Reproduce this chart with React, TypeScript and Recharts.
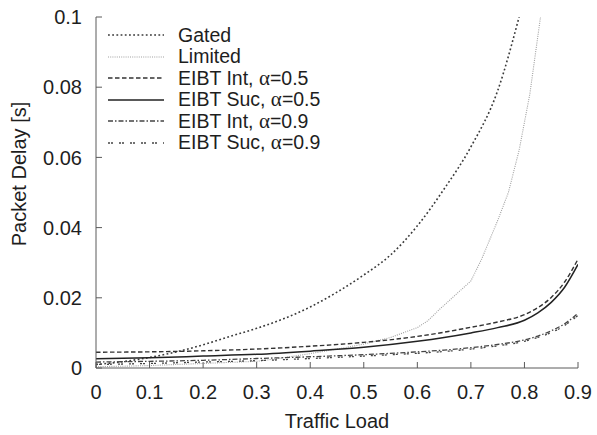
import React from 'react';
import { LineChart, Line, XAxis, YAxis, Legend } from 'recharts';

// Traffic load (x) and packet delay (y) values
const gatedX = [0, 0.05, 0.1, 0.15, 0.2, 0.25, 0.3, 0.35, 0.4, 0.45, 0.5, 0.55, 0.6, 0.65, 0.7, 0.75, 0.79, 0.81];
const gatedY = [0.001, 0.0018, 0.003, 0.0046, 0.0066, 0.009, 0.0113, 0.014, 0.0174, 0.0216, 0.0265, 0.0322, 0.0405, 0.051, 0.063, 0.079, 0.1, 0.112];

const limitedX = [0, 0.05, 0.1, 0.15, 0.2, 0.25, 0.3, 0.35, 0.4, 0.45, 0.5, 0.55, 0.6, 0.62, 0.64, 0.7, 0.72, 0.75, 0.77, 0.79, 0.8, 0.81, 0.82, 0.83, 0.84];
const limitedY = [0.0004, 0.0005, 0.0007, 0.001, 0.0013, 0.0016, 0.0019, 0.0029, 0.0041, 0.0054, 0.0068, 0.0087, 0.0115, 0.0135, 0.0165, 0.0248, 0.031, 0.042, 0.05, 0.062, 0.07, 0.078, 0.089, 0.1, 0.115];

const eibtX = [0, 0.1, 0.2, 0.3, 0.4, 0.5, 0.6, 0.65, 0.7, 0.75, 0.8, 0.825, 0.85, 0.875, 0.9];
const intA05Y = [0.0045, 0.0046, 0.0049, 0.0054, 0.0062, 0.0073, 0.009, 0.0102, 0.0116, 0.0131, 0.0152, 0.0172, 0.0201, 0.0245, 0.031];
const sucA05Y = [0.0026, 0.0029, 0.0034, 0.0039, 0.0048, 0.0059, 0.0076, 0.0087, 0.01, 0.0115, 0.0136, 0.0157, 0.0187, 0.023, 0.0295];
const intA09Y = [0.0017, 0.0019, 0.0022, 0.0027, 0.0032, 0.0038, 0.0046, 0.0051, 0.0058, 0.0067, 0.008, 0.0091, 0.0106, 0.0126, 0.0156];
const sucA09Y = [0.001, 0.0013, 0.0017, 0.0021, 0.0027, 0.0034, 0.0042, 0.0047, 0.0054, 0.0063, 0.0076, 0.0087, 0.0101, 0.0121, 0.015];

const xTicks = [0, 0.1, 0.2, 0.3, 0.4, 0.5, 0.6, 0.7, 0.8, 0.9];
const yTicks = [0, 0.02, 0.04, 0.06, 0.08, 0.1];

const toData = (xs: number[], ys: number[]) => xs.map((x, i) => ({ x, y: ys[i] }));

const series = [
  { key: 'gated', name: 'Gated', data: toData(gatedX, gatedY), stroke: '#3a3a3a', width: 1.6, dash: '1.8 2.4', type: 'monotone' },
  { key: 'limited', name: 'Limited', data: toData(limitedX, limitedY), stroke: '#a0a0a0', width: 1.1, dash: '1 1.2', type: 'linear' },
  { key: 'int05', name: 'EIBT Int, ', alpha: '0.5', data: toData(eibtX, intA05Y), stroke: '#333', width: 1.4, dash: '4.5 2.5', type: 'monotone' },
  { key: 'suc05', name: 'EIBT Suc, ', alpha: '0.5', data: toData(eibtX, sucA05Y), stroke: '#222', width: 1.5, dash: undefined, type: 'monotone' },
  { key: 'int09', name: 'EIBT Int, ', alpha: '0.9', data: toData(eibtX, intA09Y), stroke: '#444', width: 1.3, dash: '5 2 1.5 2', type: 'monotone' },
  { key: 'suc09', name: 'EIBT Suc, ', alpha: '0.9', data: toData(eibtX, sucA09Y), stroke: '#444', width: 1.3, dash: '2 1 2 6', type: 'monotone' },
];

const FONT = '"Liberation Sans", Arial, Helvetica, sans-serif';
const TEXT = '#1e1e1e';
const AXIS = '#5a5a5a';
const FS = 20;

const LegendContent = () => (
  <div style={{ fontFamily: FONT, fontSize: 19.5, color: TEXT }}>
    {series.map((s) => (
      <div key={s.key} style={{ display: 'flex', alignItems: 'center', height: 21.5, lineHeight: '21.5px', whiteSpace: 'nowrap' }}>
        <svg width={56} height={10} style={{ display: 'block' }}>
          <line x1={0} y1={5} x2={56} y2={5} stroke={s.stroke} strokeWidth={s.width} strokeDasharray={s.dash} />
        </svg>
        <span style={{ marginLeft: 14 }}>
          {s.name}
          {s.alpha ? (
            <>
              <span style={{ fontFamily: '"Liberation Serif", "DejaVu Serif", serif', fontSize: 21 }}>α</span>={s.alpha}
            </>
          ) : null}
        </span>
      </div>
    ))}
  </div>
);

export default function App() {
  return (
    <div style={{ position: 'absolute', left: 0, top: 0, background: '#fff' }}>
      <LineChart width={597} height={435} margin={{ top: 17, right: 19, left: 0, bottom: 0 }}>
        <XAxis
          dataKey="x"
          type="number"
          domain={[0, 0.9]}
          ticks={xTicks}
          height={67}
          stroke={AXIS}
          tickSize={-6}
          tickMargin={23}
          tick={{ fill: TEXT, fontSize: FS, fontFamily: FONT }}
          allowDataOverflow
          label={{
            content: () => (
              <text x={337} y={428} textAnchor="middle" fill={TEXT} fontSize={FS} fontFamily={FONT}>
                Traffic Load
              </text>
            ),
          }}
        />
        <XAxis
          xAxisId="top"
          orientation="top"
          type="number"
          domain={[0, 0.9]}
          ticks={xTicks}
          height={0}
          stroke={AXIS}
          tickSize={-6}
          tick={false}
        />
        <YAxis
          type="number"
          domain={[0, 0.1]}
          ticks={yTicks}
          width={96}
          stroke={AXIS}
          tickSize={-6}
          tickMargin={20}
          allowDataOverflow
          tick={{ fill: TEXT, fontSize: FS, fontFamily: FONT }}
          label={{
            content: () => (
              <text x={26} y={174} transform="rotate(-90 26 174)" textAnchor="middle" fill={TEXT} fontSize={FS} fontFamily={FONT}>
                Packet Delay [s]
              </text>
            ),
          }}
        />
        <YAxis
          yAxisId="right"
          orientation="right"
          type="number"
          domain={[0, 0.1]}
          ticks={yTicks}
          width={0}
          stroke={AXIS}
          tickSize={-6}
          tick={false}
        />
        <Legend
          layout="vertical"
          align="center"
          verticalAlign="middle"
          wrapperStyle={{ left: 108, top: 24.5, width: 280 }}
          content={LegendContent}
        />
        {series.map((s) => (
          <Line
            key={s.key}
            data={s.data}
            dataKey="y"
            name={s.name}
            type={s.type as any}
            stroke={s.stroke}
            strokeWidth={s.width}
            strokeDasharray={s.dash}
            dot={false}
            activeDot={false}
            isAnimationActive={false}
          />
        ))}
      </LineChart>
    </div>
  );
}
